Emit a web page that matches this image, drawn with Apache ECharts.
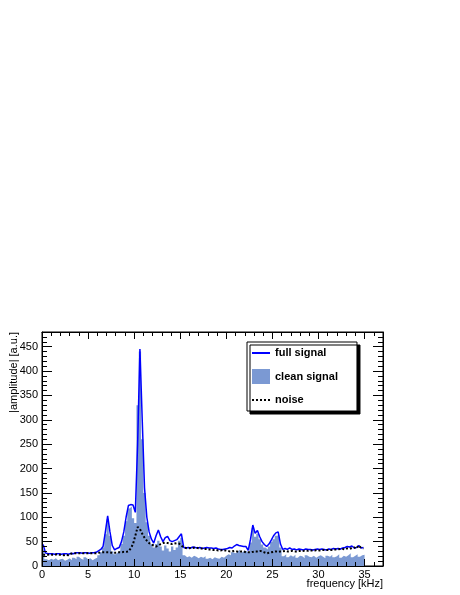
<!DOCTYPE html>
<html><head><meta charset="utf-8">
<script src="https://cdn.jsdelivr.net/npm/echarts@6/dist/echarts.min.js"></script>
<style>html,body{margin:0;padding:0;background:#fff}#c{width:460px;height:595px}</style>
</head><body><div id="c"></div><script>
// frequency bins: width 0.25 kHz, from 0 to 35 kHz
const binWidth = 0.25;

// |amplitude| of the full signal (line), one value per bin
const fullSignal = [
  44, 27, 25, 25,   25, 24, 25, 25,   24, 25, 25, 24,   26, 25, 27, 27,
  27, 26, 27, 27,   26, 27, 27, 28,   31, 34, 40, 70,   103, 70, 42, 33,
  36, 38, 50, 70,   100, 124, 126, 125,   110, 250, 445, 300,   160, 100, 70, 55,
  47, 62, 74, 60,   50, 58, 61, 52,   50, 52, 54, 60,   66, 38, 37, 38,
  37, 39, 38, 37,   38, 36, 37, 38,   37, 37, 36, 37,   35, 34, 34, 35,
  36, 38, 37, 41,   44, 42, 41, 40,   40, 32, 55, 84,   67, 73, 60, 50,
  44, 40, 45, 53,   62, 68, 70, 45,   34, 36, 34, 37,   34, 35, 33, 35,
  34, 33, 35, 34,   34, 33, 34, 35,   34, 35, 34, 33,   35, 34, 36, 35,
  36, 35, 37, 38,   40, 39, 41, 37,   38, 42, 37, 38
];

// |amplitude| of the clean signal (filled histogram)
const cleanSignal = [
  34, 14, 12, 15,   13, 16, 12, 14,   15, 11, 13, 16,   12, 17, 14, 19,
  15, 13, 18, 14,   16, 12, 15, 17,   22, 28, 38, 65,   96, 62, 30, 24,
  28, 32, 45, 62,   92, 118, 122, 98,   88, 330, 440, 260,   150, 90, 62, 45,
  38, 45, 52, 40,   32, 42, 36, 30,   40, 33, 38, 52,   58, 22, 18, 20,
  17, 21, 19, 16,   19, 17, 20, 15,   17, 14, 18, 16,   15, 19, 17, 21,
  24, 22, 28, 26,   30, 34, 28, 32,   30, 28, 48, 78,   60, 66, 55, 44,
  38, 34, 40, 50,   55, 62, 64, 38,   20, 24, 18, 22,   19, 23, 17, 21,
  20, 16, 22, 19,   18, 21, 17, 20,   22, 19, 16, 21,   19, 23, 18, 20,
  24, 17, 21, 19,   22, 26, 18, 21,   24, 19, 22, 23
];

// |amplitude| of the noise (dotted line)
const noise = [
  23, 23, 23, 24,   23, 23, 24, 23,   23, 22, 23, 22,   25, 26, 26, 26,
  26, 26, 26, 26,   26, 26, 26, 26,   27, 28, 28, 28,   28, 28, 27, 27,
  27, 28, 28, 29,   29, 30, 36, 45,   62, 80, 76, 66,   58, 52, 47, 44,
  42, 40, 42, 45,   47, 48, 47, 46,   45, 46, 47, 46,   42, 38, 37, 36,
  37, 37, 38, 37,   36, 36, 35, 35,   34, 34, 33, 33,   32, 32, 33, 32,
  31, 30, 30, 31,   30, 29, 30, 30,   28, 28, 28, 29,   30, 30, 31, 30,
  28, 26, 27, 28,   29, 30, 29, 30,   30, 31, 30, 30,   31, 30, 30, 31,
  31, 31, 32, 31,   32, 32, 32, 33,   32, 33, 33, 33,   33, 33, 34, 34,
  34, 35, 35, 34,   36, 35, 37, 38,   36, 42, 37, 36
];

const legendNames = ['full signal', 'clean signal', 'noise'];
const xTitle = 'frequency [kHz]';
const yTitle = '|amplitude| [a.u.]';

const FONT = '"Liberation Sans", Arial, Helvetica, sans-serif';

const histData = cleanSignal.map((v, i) => [i * binWidth, v]);
histData.push([cleanSignal.length * binWidth, cleanSignal[cleanSignal.length - 1]]);
const fullData = fullSignal.map((v, i) => [(i + 0.5) * binWidth, v]);
const noiseData = noise.map((v, i) => [(i + 0.5) * binWidth, v]);

function xAx(pos, showLabel) {
  return {
    type: 'value', position: pos, min: 0, max: 37, interval: 5, z: 10,
    axisLine: { show: true, onZero: false, lineStyle: { color: '#000', width: 1 } },
    axisTick: { show: true, inside: true, length: 7, lineStyle: { color: '#000', width: 1 } },
    minorTick: { show: true, splitNumber: 5, length: 4, lineStyle: { color: '#000', width: 1 } },
    axisLabel: { show: showLabel, color: '#000', fontSize: 11, fontFamily: FONT, margin: 3, showMaxLabel: false },
    splitLine: { show: false }, minorSplitLine: { show: false }
  };
}
function yAx(pos, showLabel) {
  return {
    type: 'value', position: pos, min: 0, max: 480, interval: 50, z: 10,
    axisLine: { show: true, onZero: false, lineStyle: { color: '#000', width: 1 } },
    axisTick: { show: true, inside: true, length: 10, lineStyle: { color: '#000', width: 1 } },
    minorTick: { show: true, splitNumber: 5, length: 5, lineStyle: { color: '#000', width: 1 } },
    axisLabel: { show: showLabel, color: '#000', fontSize: 11, fontFamily: FONT, margin: 4, showMaxLabel: false },
    splitLine: { show: false }, minorSplitLine: { show: false }
  };
}

const chart = echarts.init(document.getElementById('c'), null, { renderer: 'canvas' });
chart.setOption({
  animation: false,
  backgroundColor: '#fff',
  grid: { left: 42, top: 332, width: 341, height: 234, show: true, borderColor: '#000', borderWidth: 1, backgroundColor: 'transparent' },
  xAxis: [xAx('bottom', true), xAx('top', false)],
  yAxis: [yAx('left', true), yAx('right', false)],
  legend: {
    orient: 'vertical', left: 247, top: 342,
    padding: [5, 19, 5, 4], itemGap: 10, itemWidth: 18, itemHeight: 15, itemTextGap: 4,
    backgroundColor: '#fff', borderColor: '#000', borderWidth: 1,
    shadowColor: '#000', shadowBlur: 0, shadowOffsetX: 3, shadowOffsetY: 3,
    textStyle: { fontWeight: 'bold', fontSize: 11, fontFamily: FONT, color: '#000' },
    data: [
      { name: legendNames[0], itemStyle: { opacity: 0 } },
      { name: legendNames[1], icon: 'rect' },
      { name: legendNames[2], itemStyle: { opacity: 0 } }
    ]
  },
  graphic: [
    { type: 'text', x: 14, y: 332, rotation: Math.PI / 2,
      style: { text: yTitle, fill: '#000', font: '11px ' + FONT, align: 'right', verticalAlign: 'middle' } },
    { type: 'text', x: 383, y: 584,
      style: { text: xTitle, fill: '#000', font: '11px ' + FONT, align: 'right', verticalAlign: 'middle' } }
  ],
  series: [
    { name: legendNames[1], type: 'line', step: 'end', data: histData, symbol: 'none',
      color: '#7b99d3', itemStyle: { color: '#7b99d3' },
      lineStyle: { width: 0, color: '#7b99d3' }, areaStyle: { color: '#7b99d3', opacity: 1 }, z: 2 },
    { name: legendNames[0], type: 'line', data: fullData, symbol: 'none',
      color: '#0000ff', lineStyle: { color: '#0000ff', width: 1.5 }, z: 3 },
    { name: legendNames[2], type: 'line', data: noiseData, symbol: 'none',
      color: '#000', lineStyle: { color: '#000', width: 2, type: [2, 2] }, z: 4 }
  ]
});
</script></body></html>
